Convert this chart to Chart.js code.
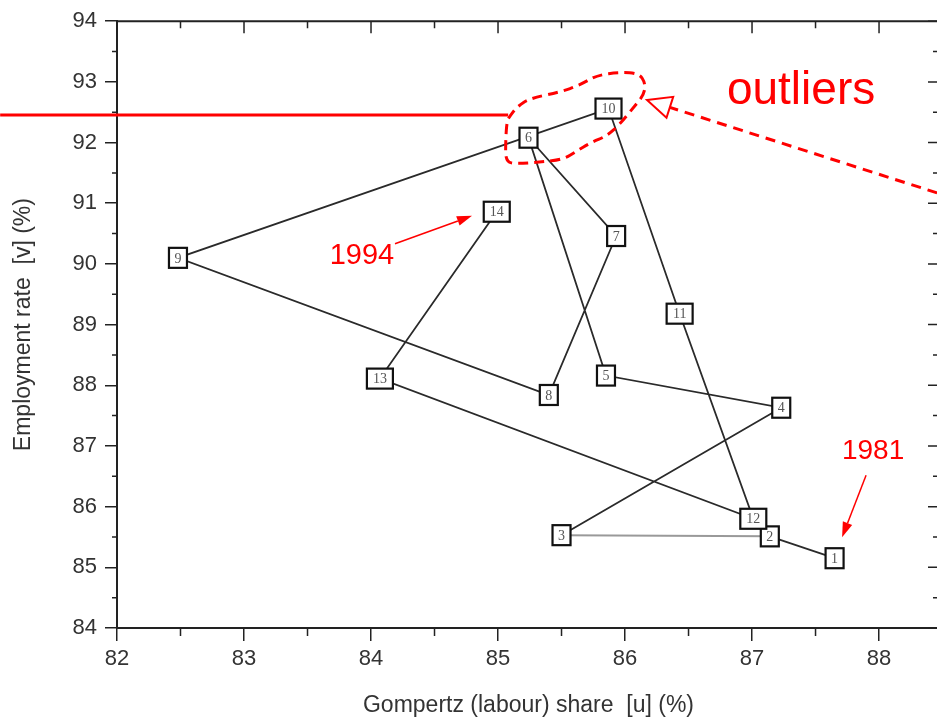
<!DOCTYPE html>
<html>
<head>
<meta charset="utf-8">
<script src="https://cdn.jsdelivr.net/npm/chart.js@4.4.1/dist/chart.umd.min.js"></script>
<style>
  html, body { margin: 0; padding: 0; background: #fff; overflow: hidden; }
  #wrap { width: 960px; height: 720px; }
</style>
</head>
<body>
<div id="wrap"><canvas id="chart" width="960" height="720"></canvas></div>
<script>
// one point per year, 1981 = "1" ... 1994 = "14"
const pointLabels = ['1', '2', '3', '4', '5', '6', '7', '8', '9', '10', '11', '12', '13', '14'];
const labourShare = [87.65, 87.14, 85.50, 87.23, 85.85, 85.24, 85.93, 85.40, 82.48, 85.87, 86.43, 87.01, 84.07, 84.99];
const employmentRate = [85.15, 85.51, 85.53, 87.63, 88.16, 92.08, 90.46, 87.84, 90.10, 92.56, 89.18, 85.80, 88.11, 90.86];
const xTicks = [82, 83, 84, 85, 86, 87, 88];
const yTicks = [84, 85, 86, 87, 88, 89, 90, 91, 92, 93, 94];

// red annotations, in data units
const outlierLine = { x0: 81.08, x1: 85.08, y: 92.454 };
const outlierBlob = [
  [85.094, 92.437], [85.150, 92.590], [85.252, 92.730], [85.488, 92.830], [85.646, 92.950],
  [85.780, 93.110], [85.961, 93.160], [86.110, 93.140], [86.160, 92.980], [86.150, 92.790],
  [86.063, 92.569], [85.961, 92.306], [85.858, 92.109], [85.724, 91.993], [85.622, 91.862],
  [85.512, 91.720], [85.331, 91.680], [85.150, 91.650], [85.060, 91.680], [85.060, 92.026],
  [85.070, 92.355]
];
const outlierArrow = { from: [88.457, 91.171], to: [86.173, 92.701] };
const arrow1994 = { from: [84.189, 90.332], to: [84.795, 90.793] };
const arrow1981 = { from: [87.898, 86.516], to: [87.709, 85.497] };
const texts = [
  { text: 'outliers', x: 87.386, y: 92.635, size: 46 },
  { text: '1994', x: 83.929, y: 90.003, size: 29 },
  { text: '1981', x: 87.953, y: 86.780, size: 28 }
];

const points = labourShare.map((u, i) => ({ x: u, y: employmentRate[i] }));
const FONT = "'Liberation Sans', Arial, sans-serif";

// frame on top/right plus minor ticks
const framePlugin = {
  id: 'frame',
  afterDraw(chart) {
    const { ctx, chartArea: a, scales: { x, y } } = chart;
    ctx.save();
    ctx.strokeStyle = '#222';
    ctx.lineWidth = 2;
    ctx.beginPath();
    ctx.moveTo(a.left, a.top);
    ctx.lineTo(a.right, a.top);
    ctx.lineTo(a.right, a.bottom);
    ctx.stroke();

    ctx.lineWidth = 1.5;
    ctx.beginPath();
    xTicks.forEach(v => {
      [v, v + 0.5].forEach((t, k) => {
        const px = x.getPixelForValue(t);
        if (px > a.right) return;
        if (k === 1) { ctx.moveTo(px, a.bottom); ctx.lineTo(px, a.bottom + 8); }
        ctx.moveTo(px, a.top);
        ctx.lineTo(px, a.top + (k === 0 ? 12 : 7));
      });
    });
    yTicks.forEach(v => {
      [v, v + 0.5].forEach((t, k) => {
        if (t > 94) return;
        const py = y.getPixelForValue(t);
        if (k === 1) { ctx.moveTo(a.left, py); ctx.lineTo(a.left - 5, py); }
        ctx.moveTo(a.right, py);
        ctx.lineTo(a.right - (k === 0 ? 12 : 7), py);
      });
    });
    ctx.stroke();
    ctx.restore();
  }
};

// numbered boxes at each point
const boxPlugin = {
  id: 'boxes',
  afterDatasetsDraw(chart) {
    const ctx = chart.ctx;
    const meta = chart.getDatasetMeta(0);
    ctx.save();
    meta.data.forEach((pt, i) => {
      const lbl = pointLabels[i];
      const w = lbl.length > 1 ? 26 : 18, h = 20;
      ctx.fillStyle = '#fff';
      ctx.fillRect(pt.x - w / 2, pt.y - h / 2, w, h);
      ctx.strokeStyle = '#111';
      ctx.lineWidth = 2.2;
      ctx.strokeRect(pt.x - w / 2, pt.y - h / 2, w, h);
      ctx.fillStyle = '#555';
      ctx.font = "14px 'Liberation Serif', 'Times New Roman', serif";
      ctx.textAlign = 'center';
      ctx.textBaseline = 'middle';
      ctx.fillText(lbl, pt.x, pt.y + 1);
    });
    ctx.restore();
  }
};

function headArrow(ctx, x0, y0, x1, y1, len, half, hollow) {
  const dx = x1 - x0, dy = y1 - y0, d = Math.hypot(dx, dy);
  const ux = dx / d, uy = dy / d;
  const bx = x1 - ux * len, by = y1 - uy * len;
  ctx.beginPath();
  ctx.moveTo(x0, y0);
  ctx.lineTo(bx, by);
  ctx.stroke();
  ctx.setLineDash([]);
  ctx.beginPath();
  ctx.moveTo(x1, y1);
  ctx.lineTo(bx - uy * half, by + ux * half);
  ctx.lineTo(bx + uy * half, by - ux * half);
  ctx.closePath();
  if (hollow) { ctx.lineWidth = 2; ctx.stroke(); } else { ctx.fill(); }
}

const annotationPlugin = {
  id: 'annotations',
  afterDraw(chart) {
    const { ctx, scales: { x, y } } = chart;
    const P = (a, b) => [x.getPixelForValue(a), y.getPixelForValue(b)];
    ctx.save();
    ctx.strokeStyle = '#ff0000';
    ctx.fillStyle = '#ff0000';

    // horizontal line
    ctx.lineWidth = 3;
    ctx.beginPath();
    ctx.moveTo(...P(outlierLine.x0, outlierLine.y));
    ctx.lineTo(...P(outlierLine.x1, outlierLine.y));
    ctx.stroke();

    // dashed blob
    const pts = outlierBlob.map(p => P(p[0], p[1]));
    const mid = (p, q) => [(p[0] + q[0]) / 2, (p[1] + q[1]) / 2];
    ctx.setLineDash([10, 6]);
    ctx.beginPath();
    ctx.moveTo(...mid(pts[pts.length - 1], pts[0]));
    pts.forEach((p, i) => {
      const m = mid(p, pts[(i + 1) % pts.length]);
      ctx.quadraticCurveTo(p[0], p[1], m[0], m[1]);
    });
    ctx.closePath();
    ctx.stroke();

    // dashed arrow with hollow head
    ctx.setLineDash([10, 7]);
    const a0 = P(...outlierArrow.from), a1 = P(...outlierArrow.to);
    headArrow(ctx, a0[0], a0[1], a1[0], a1[1], 24, 11, true);

    // thin arrows
    ctx.lineWidth = 1.5;
    [arrow1994, arrow1981].forEach(ar => {
      const s = P(...ar.from), e = P(...ar.to);
      headArrow(ctx, s[0], s[1], e[0], e[1], 15, 5, false);
    });

    ctx.textAlign = 'center';
    ctx.textBaseline = 'alphabetic';
    texts.forEach(t => {
      ctx.font = t.size + 'px ' + FONT;
      ctx.fillText(t.text, ...P(t.x, t.y));
    });
    ctx.restore();
  }
};

new Chart(document.getElementById('chart').getContext('2d'), {
  type: 'scatter',
  data: {
    datasets: [{
      data: points,
      showLine: true,
      borderColor: '#2a2a2a',
      borderWidth: 1.8,
      pointRadius: 0,
      pointHoverRadius: 0,
      tension: 0,
      segment: {
        borderColor: c => c.p0DataIndex === 1 ? '#999' : '#2a2a2a',
        borderWidth: c => c.p0DataIndex === 1 ? 2 : 1.8
      }
    }]
  },
  options: {
    responsive: false,
    animation: false,
    events: [],
    layout: { padding: { top: 20, right: 20, left: 0, bottom: 0 } },
    plugins: { legend: { display: false }, tooltip: { enabled: false } },
    scales: {
      x: {
        type: 'linear',
        min: 82,
        max: 88.48,
        afterBuildTicks: s => { s.ticks = xTicks.map(v => ({ value: v })); },
        afterFit: s => { s.height = 92; },
        ticks: { color: '#333', font: { family: FONT, size: 22 }, padding: 5, maxRotation: 0 },
        grid: { drawOnChartArea: false, tickLength: 13, tickColor: '#222', lineWidth: 1.5 },
        border: { color: '#222', width: 2 },
        title: {
          display: true,
          text: 'Gompertz (labour) share  [u] (%)',
          color: '#333',
          font: { family: FONT, size: 23 },
          padding: { top: 0, bottom: 1 }
        }
      },
      y: {
        type: 'linear',
        min: 84,
        max: 94,
        afterBuildTicks: s => { s.ticks = yTicks.map(v => ({ value: v })); },
        afterFit: s => { s.width = 117; },
        ticks: { color: '#333', font: { family: FONT, size: 22 }, padding: 8 },
        grid: { drawOnChartArea: false, tickLength: 12, tickColor: '#222', lineWidth: 1.5 },
        border: { color: '#222', width: 2 },
        title: {
          display: true,
          text: 'Employment rate  [v] (%)',
          color: '#333',
          font: { family: FONT, size: 23 },
          padding: { top: 10, bottom: 0 }
        }
      }
    }
  },
  plugins: [framePlugin, boxPlugin, annotationPlugin]
});
</script>
</body>
</html>
